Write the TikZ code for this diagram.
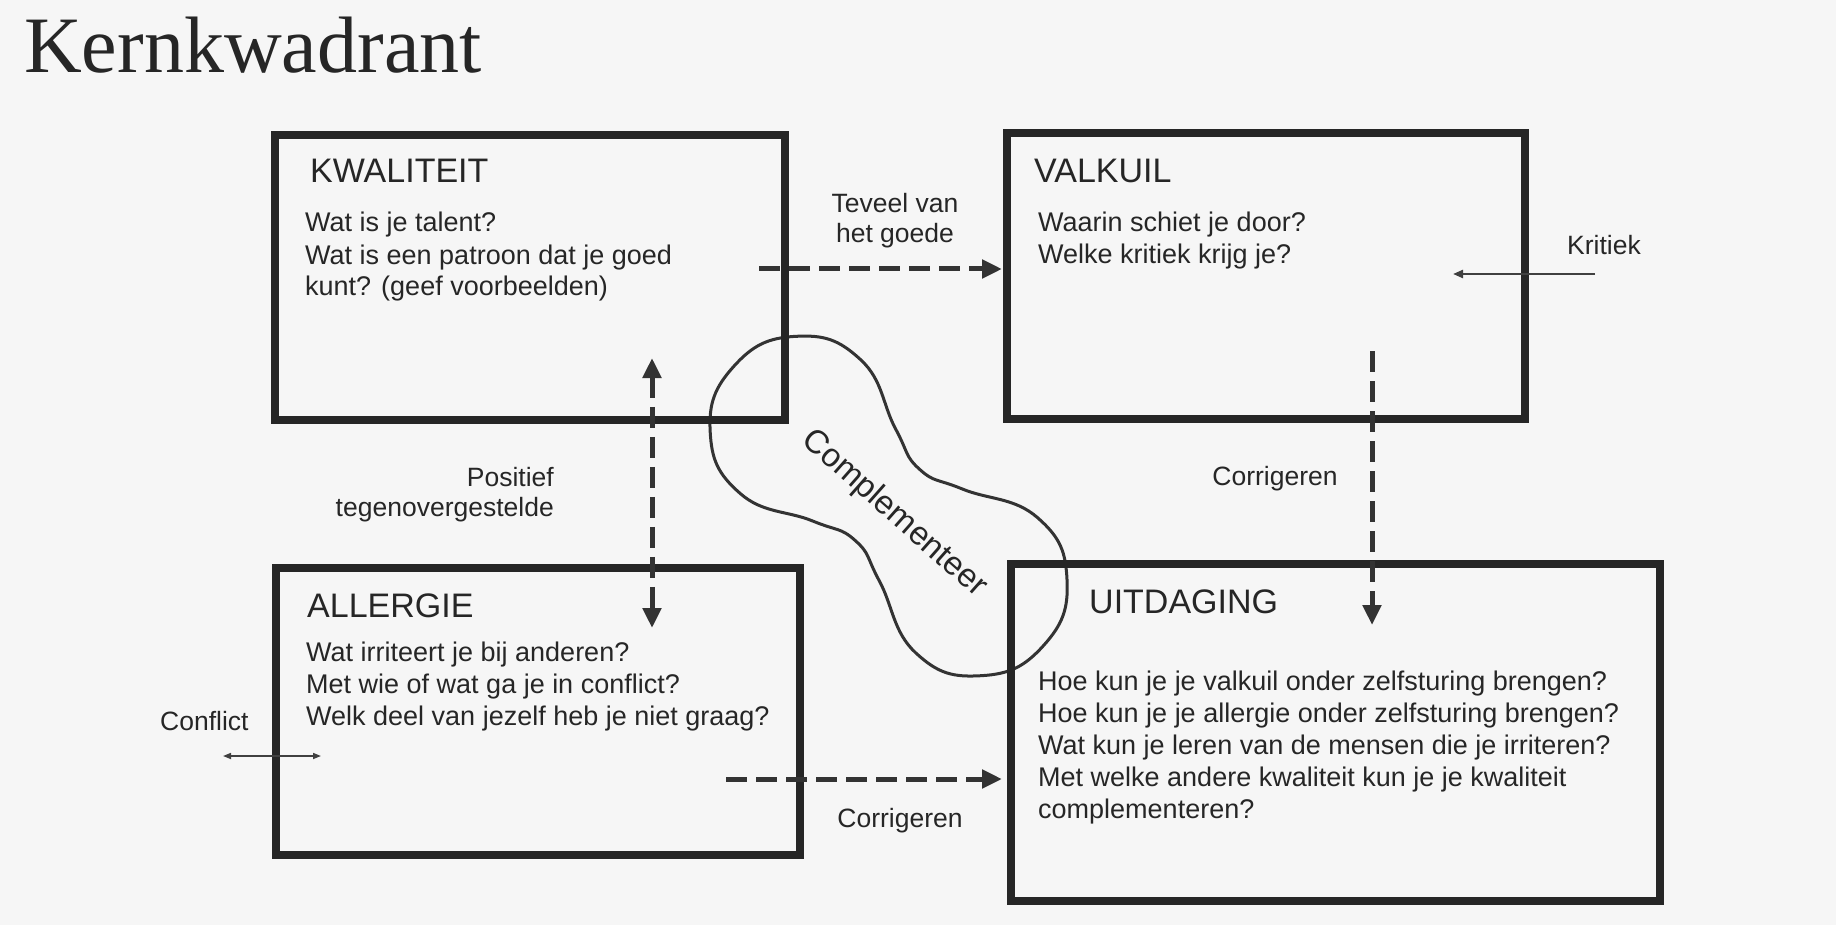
\documentclass[tikz,border=0pt]{standalone}
\usepackage{fontspec}
\setmainfont{Liberation Serif}
\setsansfont{Liberation Sans}
\usetikzlibrary{arrows.meta,positioning}
\tikzset{
  vak/.style={draw=black!85, line width=8pt, outer sep=0pt, inner sep=0pt, fill=none},
  kop/.style={font=\sffamily\fontsize{34}{40}\selectfont, text=black!85, inner sep=0pt, anchor=base west},
  tekst/.style={font=\sffamily\fontsize{27}{32}\selectfont, text=black!85, inner sep=0pt, align=left, anchor=base west},
  bijschrift/.style={font=\sffamily\fontsize{26.5}{30}\selectfont, text=black!85, inner sep=0pt},
  stippel/.style={line width=5pt, draw=black!80, dash pattern=on 21pt off 9pt, >={Triangle[length=20pt,width=18pt]}, ->},
  pijl/.style={line width=2.2pt, draw=black!75, >={Triangle[length=10pt,width=8pt]}, ->}
}

\begin{document}
\begin{tikzpicture}[x=1pt, y=-1pt]
  \fill[gray!7] (0,0) rectangle (1836,925);
  \useasboundingbox (0,0) rectangle (1836,925);

  \node[font=\fontsize{80}{90}\selectfont, text=black!85, inner sep=0pt, anchor=base west] (titel) at (24,73) {Kernkwadrant};

  % complementeer-vorm
  \begin{scope}[shift={(887.5,505)}, rotate=-42]
    \draw[line width=3pt, black!80] plot[smooth cycle, tension=0.8] coordinates {
      (210,0) (184,64) (120,91) (45,62) (0,48) (-45,62) (-117,90) (-181,64)
      (-207,0) (-181,-64) (-117,-90) (-45,-62) (0,-48) (45,-62) (120,-91) (184,-64)};
  \end{scope}
  \node[bijschrift, font=\sffamily\fontsize{33}{38}\selectfont, rotate=-41.5] (complementeer) at (894,514) {Complementeer};

  % vier vakken
  \node[vak, minimum width=510pt, minimum height=285pt] (kwaliteit) at (530,277.5) {};
  \node[vak, minimum width=518pt, minimum height=286pt] (valkuil) at (1266,276) {};
  \node[vak, minimum width=524pt, minimum height=287pt] (allergie) at (538,711.5) {};
  \node[vak, minimum width=649pt, minimum height=337pt] (uitdaging) at (1335.5,732.5) {};

  % teksten (basislijn van de laatste regel)
  \node[kop] (kwaliteitkop) at ([shift={(35,48)}]kwaliteit.north west) {KWALITEIT};
  \node[tekst] (kwaliteittekst) at ([shift={(30,161)}]kwaliteit.north west)
    {Wat is je talent?\\Wat is een patroon dat je goed\\kunt? (geef voorbeelden)};

  \node[kop] (valkuilkop) at ([shift={(27,50)}]valkuil.north west) {VALKUIL};
  \node[tekst] (valkuiltekst) at ([shift={(31,131)}]valkuil.north west)
    {Waarin schiet je door?\\Welke kritiek krijg je?};

  \node[kop] (allergiekop) at ([shift={(31,49)}]allergie.north west) {ALLERGIE};
  \node[tekst] (allergietekst) at ([shift={(30,157)}]allergie.north west)
    {Wat irriteert je bij anderen?\\Met wie of wat ga je in conflict?\\Welk deel van jezelf heb je niet graag?};

  \node[kop] (uitdagingkop) at ([shift={(78,49)}]uitdaging.north west) {UITDAGING};
  \node[tekst] (uitdagingtekst) at ([shift={(27,254)}]uitdaging.north west)
    {Hoe kun je je valkuil onder zelfsturing brengen?\\Hoe kun je je allergie onder zelfsturing brengen?\\Wat kun je leren van de mensen die je irriteren?\\Met welke andere kwaliteit kun je je kwaliteit\\complementeren?};

  % bijschriften
  \node[bijschrift, align=center, anchor=base] (teveel) at (895,243) {Teveel van\\het goede};
  \node[bijschrift, align=right, anchor=base east] (positief) at (554,516) {Positief\\tegenovergestelde};
  \node[bijschrift, anchor=base] (corrigerenrechts) at (1275,485) {Corrigeren};
  \node[bijschrift, anchor=base] (corrigerenonder) at (900,827) {Corrigeren};
  \node[bijschrift, anchor=base west] (kritiek) at (1567,255) {Kritiek};
  \node[bijschrift, anchor=base west] (conflict) at (160,730) {Conflict};

  % pijlen
  \coordinate (teveelbegin) at (759,269);
  \coordinate (positiefboven) at (652,358);
  \coordinate (positiefonder) at (652,628);
  \coordinate (corrigerenboven) at (1372,351);
  \coordinate (corrigerenpunt) at (1372,625);
  \coordinate (allergiebegin) at (726,779);
  \coordinate (kritiekbegin) at (1595,274);
  \coordinate (kritiekeind) at (1453,274);
  \coordinate (conflictlinks) at (223,756);
  \coordinate (conflictrechts) at (321,756);

  \draw[stippel, shorten >=5pt] (teveelbegin) -- (teveelbegin -| valkuil.west);
  \draw[stippel, <->] (positiefboven) -- (positiefonder);
  \draw[stippel] (corrigerenboven) -- (corrigerenpunt);
  \draw[stippel, shorten >=9pt] (allergiebegin) -- (allergiebegin -| uitdaging.west);
  \draw[pijl] (kritiekbegin) -- (kritiekeind);
  \draw[pijl, line width=1.6pt, >={Triangle[length=8pt,width=6pt]}, <->] (conflictlinks) -- (conflictrechts);
\end{tikzpicture}
\end{document}
